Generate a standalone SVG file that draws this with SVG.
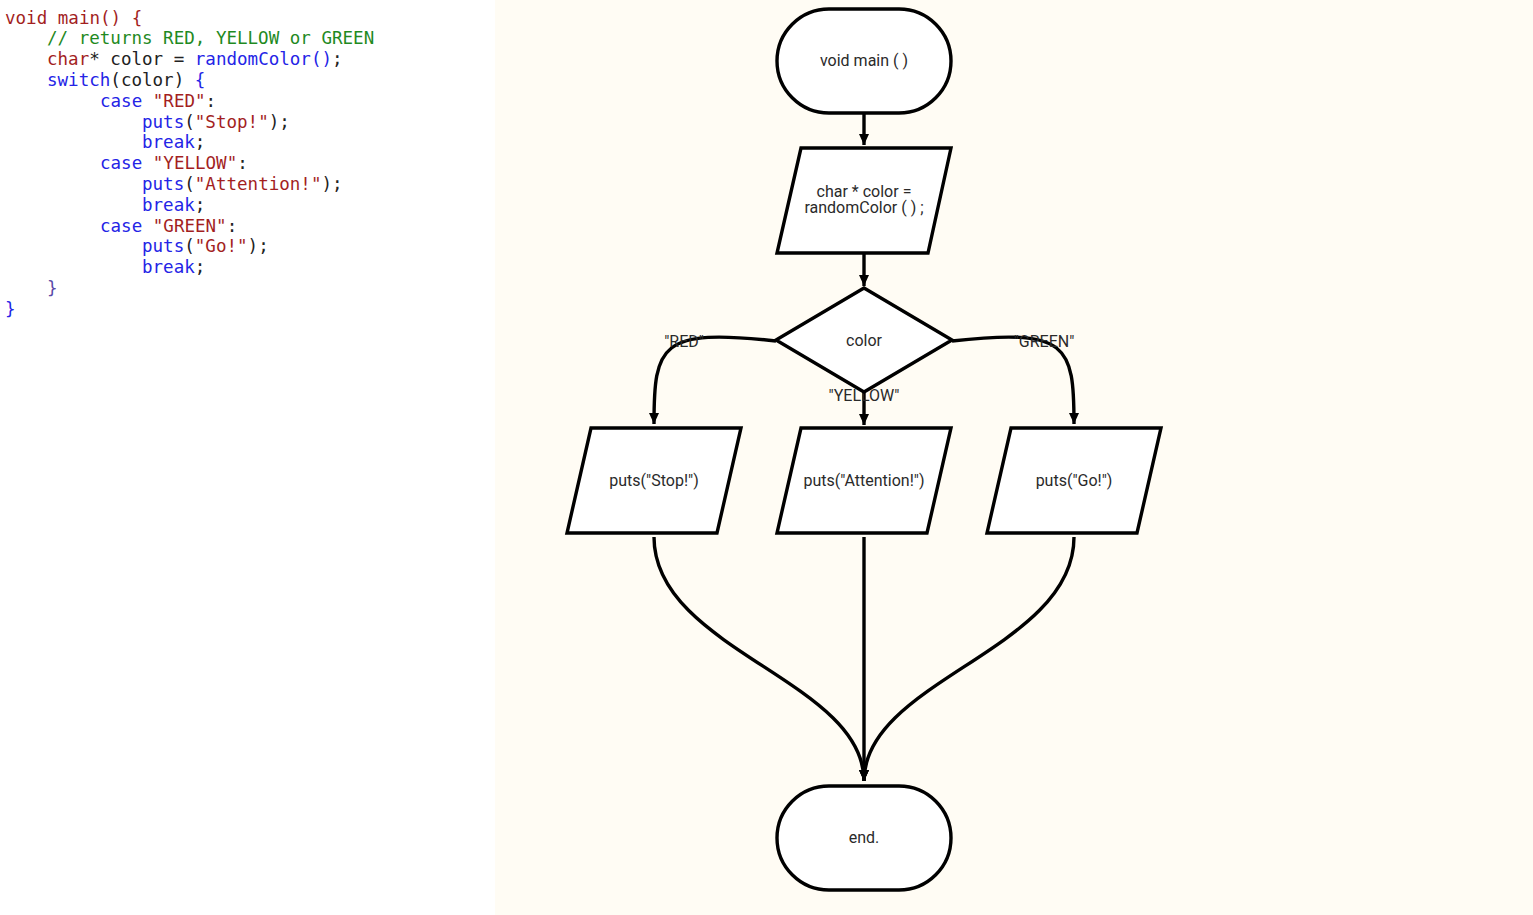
<svg xmlns="http://www.w3.org/2000/svg" width="1533" height="915" viewBox="0 0 1533 915">
<defs>
<style>
.code{font-family:"DejaVu Sans Mono","Liberation Mono",monospace;font-size:17.55px;fill:#222;white-space:pre}
.r{fill:#a31f1f}.g{fill:#1f8a1f}.b{fill:#2424e6}.p{fill:#5a4aa8}.k{fill:#222}
.shape{fill:#ffffff;stroke:#000;stroke-width:3.4}
.lbl{font-family:Roboto,"Liberation Sans",sans-serif;font-size:16px;fill:#2a2a2a;text-anchor:middle}
.edge{fill:none;stroke:#000;stroke-width:3.4}
</style>
<marker id="arr" markerUnits="userSpaceOnUse" markerWidth="12" markerHeight="12" refX="11" refY="5" orient="auto">
<path d="M0,0 L11,5 L0,10 z" fill="#000"/>
</marker>
</defs>
<rect x="0" y="0" width="1533" height="915" fill="#ffffff"/>
<rect x="495" y="0" width="1038" height="915" fill="#fffcf4"/>
<g id="code">
<text class="code" x="5" y="23.5"><tspan class="r">void main() {</tspan></text>
<text class="code" x="47" y="44.3"><tspan class="g">// returns RED, YELLOW or GREEN</tspan></text>
<text class="code" x="47" y="65.1"><tspan class="r">char</tspan><tspan class="k">* color = </tspan><tspan class="b">randomColor()</tspan><tspan class="k">;</tspan></text>
<text class="code" x="47" y="85.9"><tspan class="b">switch</tspan><tspan class="k">(color) </tspan><tspan class="b">{</tspan></text>
<text class="code" x="100" y="106.7"><tspan class="b">case </tspan><tspan class="r">"RED"</tspan><tspan class="k">:</tspan></text>
<text class="code" x="142" y="127.5"><tspan class="b">puts</tspan><tspan class="k">(</tspan><tspan class="r">"Stop!"</tspan><tspan class="k">);</tspan></text>
<text class="code" x="142" y="148.3"><tspan class="b">break</tspan><tspan class="k">;</tspan></text>
<text class="code" x="100" y="169.1"><tspan class="b">case </tspan><tspan class="r">"YELLOW"</tspan><tspan class="k">:</tspan></text>
<text class="code" x="142" y="189.9"><tspan class="b">puts</tspan><tspan class="k">(</tspan><tspan class="r">"Attention!"</tspan><tspan class="k">);</tspan></text>
<text class="code" x="142" y="210.7"><tspan class="b">break</tspan><tspan class="k">;</tspan></text>
<text class="code" x="100" y="231.5"><tspan class="b">case </tspan><tspan class="r">"GREEN"</tspan><tspan class="k">:</tspan></text>
<text class="code" x="142" y="252.3"><tspan class="b">puts</tspan><tspan class="k">(</tspan><tspan class="r">"Go!"</tspan><tspan class="k">);</tspan></text>
<text class="code" x="142" y="273.1"><tspan class="b">break</tspan><tspan class="k">;</tspan></text>
<text class="code" x="47" y="293.9"><tspan class="p">}</tspan></text>
<text class="code" x="5" y="314.7"><tspan class="b">}</tspan></text>
</g>
<g id="connectors">
<line class="edge" x1="864" y1="114" x2="864" y2="145" marker-end="url(#arr)"/>
<line class="edge" x1="864" y1="254" x2="864" y2="286" marker-end="url(#arr)"/>
<path class="edge" d="M776,341 C660,328 654,345 654,424" marker-end="url(#arr)"/>
<line class="edge" x1="864" y1="392" x2="864" y2="425" marker-end="url(#arr)"/>
<path class="edge" d="M952,341 C1068,328 1074,345 1074,424" marker-end="url(#arr)"/>
<path class="edge" d="M654,537 C654,650 864,680 864,781" marker-end="url(#arr)"/>
<line class="edge" x1="864" y1="537" x2="864" y2="781" marker-end="url(#arr)"/>
<path class="edge" d="M1074,537 C1074,650 864,680 864,781" marker-end="url(#arr)"/>
<text class="lbl" x="684" y="347">"RED"</text>
<text class="lbl" x="864" y="401">"YELLOW"</text>
<text class="lbl" x="1044" y="347">"GREEN"</text>
</g>
<g id="start">
<rect class="shape" x="777" y="9" width="174" height="104" rx="52" ry="52"/>
<text class="lbl" x="864" y="66">void main ( )</text>
</g>
<g id="assign">
<polygon class="shape" points="801,148 951,148 928,253 777,253"/>
<text class="lbl" x="864" y="197">char * color =</text>
<text class="lbl" x="864" y="213">randomColor ( ) ;</text>
</g>
<g id="switch">
<polygon class="shape" points="864,288 952,340 864,392 776,340"/>
<text class="lbl" x="864" y="346">color</text>
</g>
<g id="stop">
<polygon class="shape" points="591,428 741,428 717,533 567,533"/>
<text class="lbl" x="654" y="486">puts("Stop!")</text>
</g>
<g id="attention">
<polygon class="shape" points="801,428 951,428 927,533 777,533"/>
<text class="lbl" x="864" y="486">puts("Attention!")</text>
</g>
<g id="go">
<polygon class="shape" points="1011,428 1161,428 1137,533 987,533"/>
<text class="lbl" x="1074" y="486">puts("Go!")</text>
</g>
<g id="end">
<rect class="shape" x="777" y="786" width="174" height="104" rx="52" ry="52"/>
<text class="lbl" x="864" y="843">end.</text>
</g>
</svg>
